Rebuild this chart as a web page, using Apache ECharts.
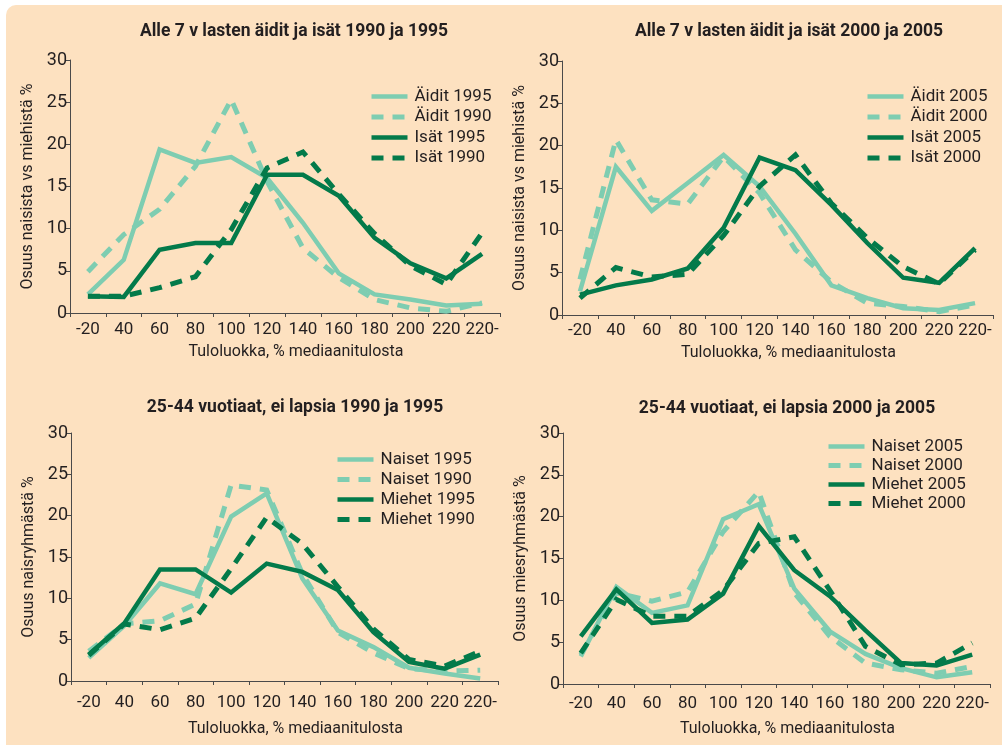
<!DOCTYPE html>
<html>
<head>
<meta charset="utf-8">
<script src="https://cdn.jsdelivr.net/npm/echarts@6/dist/echarts.min.js"></script>
<style>
html,body{margin:0;padding:0;background:#fff;}
#c{width:1002px;height:745px;}
</style>
</head>
<body>
<div id="c"></div>
<script>
const categories = ['-20','40','60','80','100','120','140','160','180','200','220','220-'];
const yTicks = [0,5,10,15,20,25,30];

// Panel 1: Alle 7 v lasten äidit ja isät 1990 ja 1995
const aidit1995 = [2.2, 6.3, 19.4, 17.8, 18.5, 16.0, 10.7, 4.7, 2.2, 1.6, 0.9, 1.1];
const aidit1990 = [4.9, 9.3, 12.3, 17.4, 25.3, 15.6, 7.7, 4.2, 1.6, 0.6, 0.2, 1.2];
const isat1995 = [2.0, 1.9, 7.5, 8.3, 8.3, 16.4, 16.4, 13.9, 8.9, 5.9, 4.1, 7.0];
const isat1990 = [2.0, 2.0, 3.0, 4.3, 9.9, 17.2, 19.1, 14.1, 9.4, 5.6, 3.4, 9.5];

// Panel 2: Alle 7 v lasten äidit ja isät 2000 ja 2005
const aidit2005 = [2.8, 17.5, 12.3, 15.6, 18.9, 15.2, 9.6, 3.5, 2.0, 0.8, 0.6, 1.4];
const aidit2000 = [4.2, 20.7, 13.6, 13.1, 18.7, 14.4, 7.7, 3.9, 1.4, 1.0, 0.4, 1.2];
const isat2005 = [2.4, 3.5, 4.2, 5.5, 10.3, 18.6, 17.1, 13.0, 8.5, 4.4, 3.8, 7.9];
const isat2000 = [2.0, 5.6, 4.5, 4.8, 9.4, 15.2, 18.9, 13.2, 9.1, 5.7, 3.7, 7.7];

// Panel 3: 25-44 vuotiaat, ei lapsia 1990 ja 1995
const naiset1995 = [2.8, 6.7, 11.8, 10.5, 19.9, 22.7, 12.4, 6.1, 4.1, 1.6, 0.9, 0.3];
const naiset1990 = [3.6, 6.9, 7.3, 9.3, 23.7, 23.1, 13.0, 5.9, 3.4, 1.5, 1.2, 1.3];
const miehet1995 = [3.2, 7.0, 13.5, 13.5, 10.7, 14.2, 13.2, 11.0, 5.9, 2.3, 1.5, 3.2];
const miehet1990 = [3.1, 6.9, 6.2, 7.6, 13.6, 19.8, 16.6, 11.4, 6.3, 2.6, 1.8, 3.6];

// Panel 4: 25-44 vuotiaat, ei lapsia 2000 ja 2005
const naiset2005 = [3.3, 11.6, 8.5, 9.4, 19.7, 21.5, 11.4, 6.3, 3.6, 1.9, 0.8, 1.4];
const naiset2000 = [3.5, 10.9, 9.9, 11.0, 18.2, 23.0, 10.9, 5.7, 2.5, 1.7, 1.3, 2.1];
const miehet2005 = [5.7, 11.3, 7.3, 7.7, 10.8, 18.9, 13.6, 10.5, 6.4, 2.5, 2.2, 3.5];
const miehet2000 = [3.7, 10.1, 8.1, 8.1, 11.2, 16.8, 17.6, 11.2, 4.5, 2.3, 2.5, 4.9];

const titles = ['Alle 7 v lasten äidit ja isät 1990 ja 1995','Alle 7 v lasten äidit ja isät 2000 ja 2005',
  '25-44 vuotiaat, ei lapsia 1990 ja 1995','25-44 vuotiaat, ei lapsia 2000 ja 2005'];
const yNames = ['Osuus naisista vs miehistä %','Osuus naisista vs miehistä %','Osuus naisryhmästä %','Osuus miesryhmästä %'];
const xName = 'Tuloluokka, % mediaanitulosta';

const panels = [
  {names:['Äidit 1995','Äidit 1990','Isät 1995','Isät 1990'], data:[aidit1995,aidit1990,isat1995,isat1990]},
  {names:['Äidit 2005','Äidit 2000','Isät 2005','Isät 2000'], data:[aidit2005,aidit2000,isat2005,isat2000]},
  {names:['Naiset 1995','Naiset 1990','Miehet 1995','Miehet 1990'], data:[naiset1995,naiset1990,miehet1995,miehet1990]},
  {names:['Naiset 2005','Naiset 2000','Miehet 2005','Miehet 2000'], data:[naiset2005,naiset2000,miehet2005,miehet2000]}
];

const FONT = 'Roboto';
const TXT = '#231f20';
const AX = '#4a4a4a';
const LIGHT = '#7ecdb1';
const DARK = '#037a4a';

const layout = [
  {grid:{left:70, top:60, width:430, height:253}, title:[294,32], legend:[369,88], gap:3.5, lab:8, nameGap:31, yGap:34},
  {grid:{left:562, top:61, width:431, height:254}, title:[789,32], legend:[865,88], gap:3.5, lab:7, nameGap:30, yGap:34},
  {grid:{left:71, top:433, width:427, height:248}, title:[295,408], legend:[335,451], gap:3, lab:13, nameGap:40, yGap:34},
  {grid:{left:563, top:433, width:427, height:251}, title:[787,409], legend:[826,438], gap:2, lab:11, nameGap:37, yGap:34}
];

const styles = [
  {color:LIGHT, width:4.5, type:'solid'},
  {color:LIGHT, width:5, type:[12,9]},
  {color:DARK, width:4.5, type:'solid'},
  {color:DARK, width:5, type:[12,9]}
];

const grid = [], xAxis = [], yAxis = [], legend = [], series = [], graphic = [];

graphic.push({type:'rect', shape:{x:6, y:5, width:1000, height:745, r:[10,0,0,0]}, style:{fill:'#fde1c0'}, z:-10, silent:true});

layout.forEach((L, i) => {
  grid.push(Object.assign({containLabel:false}, L.grid));
  xAxis.push({
    type:'category', gridIndex:i, data:categories, boundaryGap:true,
    axisLine:{show:true, lineStyle:{color:AX, width:1}},
    axisTick:{show:true, length:4, lineStyle:{color:AX}},
    axisLabel:{interval:0, margin:L.lab, fontFamily:FONT, fontSize:17, color:TXT},
    splitLine:{show:false},
    name:xName, nameLocation:'middle', nameGap:L.nameGap,
    nameTextStyle:{fontFamily:FONT, fontSize:16, color:TXT, padding:[0,0,0,22]}
  });
  yAxis.push({
    type:'value', gridIndex:i, min:0, max:30, interval:5,
    axisLine:{show:true, lineStyle:{color:AX, width:1}},
    axisTick:{show:true, length:4, lineStyle:{color:AX}},
    axisLabel:{margin:3, fontFamily:FONT, fontSize:18, color:TXT,
      formatter: v => yTicks.indexOf(v) >= 0 ? String(v) : ''},
    splitLine:{show:false},
    name:yNames[i], nameLocation:'middle', nameGap:L.yGap, nameRotate:90,
    nameTextStyle:{fontFamily:FONT, fontSize:16, color:TXT}
  });
  legend.push({
    data:panels[i].names.map((n, k) => ({
      name:n,
      itemStyle:{opacity:0},
      lineStyle:{color:styles[k].color, width:styles[k].width, type:styles[k].type, cap:'butt'}
    })),
    orient:'vertical', left:L.legend[0], top:L.legend[1], padding:0,
    itemWidth:36, itemHeight:14, itemGap:L.gap, align:'left',
    textStyle:{fontFamily:FONT, fontSize:17, color:TXT, padding:[0,0,0,2]},
    selectedMode:false
  });
  panels[i].names.forEach((n, k) => {
    series.push({
      name:n, type:'line', xAxisIndex:i, yAxisIndex:i, data:panels[i].data[k],
      symbol:'none', smooth:false, animation:false,
      lineStyle:{color:styles[k].color, width:styles[k].width, type:styles[k].type, cap:'butt', join:'miter'},
      itemStyle:{color:styles[k].color},
      z: 2 + k
    });
  });
  graphic.push({type:'text', x:L.title[0], y:L.title[1],
    style:{text:titles[i], x:0, y:0, textAlign:'center', textVerticalAlign:'middle',
      font:'bold 17.5px Roboto', fill:TXT}, z:10});
});

const chart = echarts.init(document.getElementById('c'), null, {renderer:'canvas'});
chart.setOption({
  backgroundColor:'#ffffff',
  animation:false,
  grid, xAxis, yAxis, legend, series, graphic
});
</script>
</body>
</html>
